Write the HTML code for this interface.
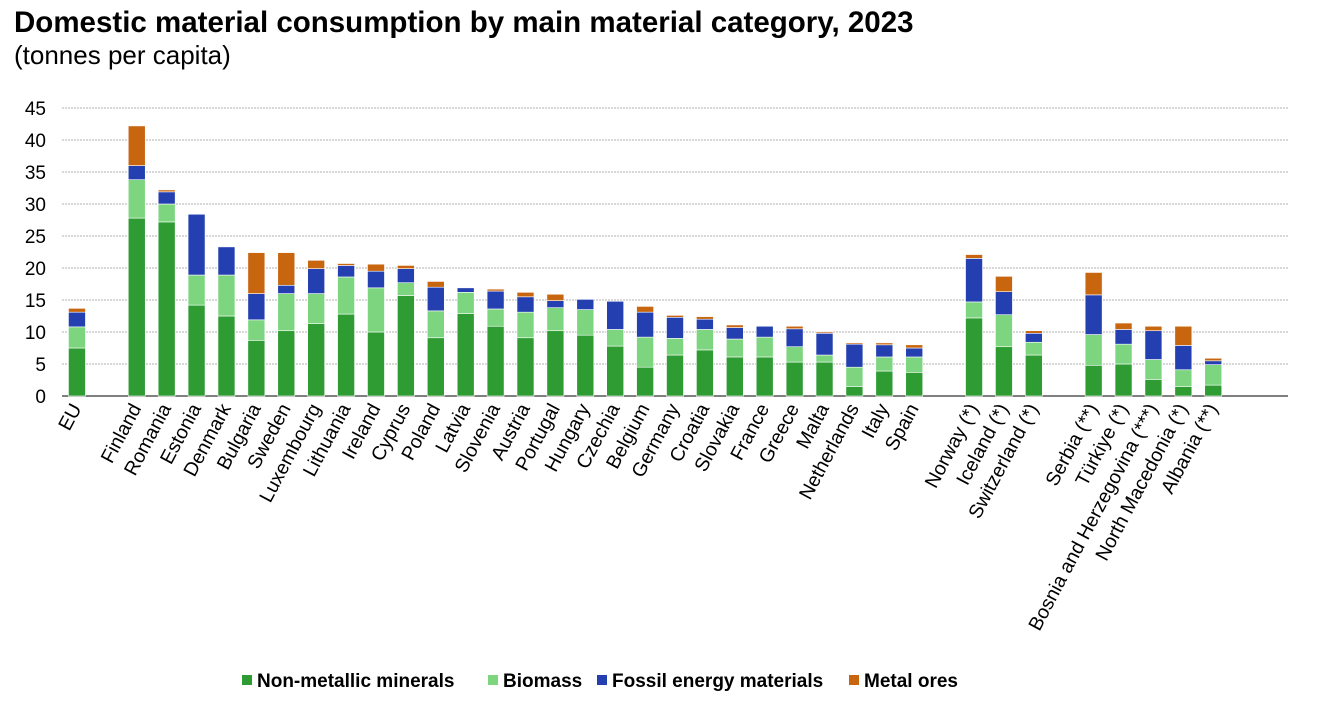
<!DOCTYPE html>
<html><head><meta charset="utf-8">
<style>
body{margin:0;background:#fff;font-family:"Liberation Sans",Arial,sans-serif;}
svg text{font-family:"Liberation Sans",Arial,sans-serif;}
</style></head>
<body>
<svg id="chart" width="1317" height="714">
<text x="14" y="32" font-size="29.5" font-weight="bold" fill="#000">Domestic material consumption by main material category, 2023</text>
<text x="14" y="64" font-size="26" fill="#000">(tonnes per capita)</text>
<g id="grid"></g><g id="bars"></g><g id="xlabels"></g><g id="legend"></g>
</svg>
<script>
const categories=["EU","","Finland","Romania","Estonia","Denmark","Bulgaria","Sweden","Luxembourg","Lithuania","Ireland","Cyprus","Poland","Latvia","Slovenia","Austria","Portugal","Hungary","Czechia","Belgium","Germany","Croatia","Slovakia","France","Greece","Malta","Netherlands","Italy","Spain","","Norway (*)","Iceland (*)","Switzerland (*)","","Serbia (**)","Türkiye (*)","Bosnia and Herzegovina (***)","North Macedonia (*)","Albania (**)","",""];
const nonMetallic=[7.5,null,27.8,27.2,14.2,12.5,8.7,10.2,11.3,12.8,10,15.7,9.1,12.9,10.9,9.1,10.2,9.5,7.8,4.5,6.4,7.2,6.1,6.1,5.3,5.3,1.5,3.9,3.7,null,12.2,7.7,6.4,null,4.8,5,2.6,1.5,1.7,null,null];
const biomass=[3.3,null,6,2.8,4.7,6.4,3.2,5.8,4.7,5.8,6.9,2,4.2,3.3,2.7,4,3.6,4,2.6,4.7,2.6,3.2,2.8,3.1,2.4,1.1,3,2.2,2.4,null,2.5,5,2,null,4.8,3.1,3.1,2.6,3.2,null,null];
const fossil=[2.3,null,2.2,1.9,9.5,4.4,4.1,1.3,3.9,1.8,2.6,2.2,3.7,0.7,2.8,2.4,1.1,1.6,4.4,3.9,3.3,1.6,1.8,1.7,2.8,3.4,3.6,1.9,1.4,null,6.8,3.6,1.4,null,6.2,2.3,4.5,3.8,0.6,null,null];
const metal=[0.6,null,6.2,0.3,0,0,6.4,5.1,1.3,0.3,1.1,0.5,0.9,0,0.3,0.7,1,0,0,0.9,0.3,0.4,0.4,0,0.4,0.2,0.2,0.3,0.5,null,0.6,2.4,0.4,null,3.5,1,0.7,3,0.4,null,null];
const yTicks=[0,5,10,15,20,25,30,35,40,45];
const seriesNames=["Non-metallic minerals","Biomass","Fossil energy materials","Metal ores"];
const colors=["#2e9b33","#7dd67f","#2440b0","#c8650f"];
const NS="http://www.w3.org/2000/svg";
const x0=62,x1=1288,y0=396,yTop=108,yMax=45;
const slot=(x1-x0)/categories.length;
const yS=v=>y0-v*(y0-yTop)/yMax;
const xC=i=>x0+slot*(i+0.5);
function mk(tag,attrs,parent){const e=document.createElementNS(NS,tag);for(const k in attrs)e.setAttribute(k,attrs[k]);parent.appendChild(e);return e;}
const grid=document.getElementById('grid');
yTicks.forEach(t=>{
  const l=mk('line',{x1:x0,x2:x1,y1:yS(t),y2:yS(t),stroke:t===0?'#000':'#b0b0b0','stroke-width':1,'stroke-dasharray':t===0?'':'2,1'},grid);
  
  
  const tx=mk('text',{x:46,y:yS(t)+7,'text-anchor':'end','font-size':19,fill:'#000'},grid);
  tx.textContent=t;
  
  
});
const bars=document.getElementById('bars');
const series=[nonMetallic,biomass,fossil,metal];
const bw=17;
categories.forEach((c,i)=>{
  if(nonMetallic[i]==null)return;
  let acc=0;
  series.forEach((s,k)=>{
    const v=s[i]||0; if(v<=0)return;
    const r=mk('rect',{x:xC(i)-bw/2,y:yS(acc+v),width:bw,height:yS(acc)-yS(acc+v),fill:colors[k],stroke:'#fff','stroke-width':0.6},bars);
    
    
    acc+=v;
  });
});
const xl=document.getElementById('xlabels');
categories.forEach((c,i)=>{
  if(!c)return;
  const x=xC(i)+5,y=408;
  const t=mk('text',{x:x,y:y,'text-anchor':'end','font-size':19.5,fill:'#000',transform:`rotate(-62 ${x} ${y})`},xl);
  t.textContent=c;
  
  
});
const lg=document.getElementById('legend');
const lx=[242,488,597,849];
seriesNames.forEach((n,k)=>{
  const r=mk('rect',{x:lx[k],y:675,width:10,height:10,fill:colors[k]},lg);
  
  
  const t=mk('text',{x:lx[k]+15,y:687,'font-size':19,'font-weight':'bold',fill:'#000'},lg);
  t.textContent=n;
  
  
});
</script>
</body></html>
